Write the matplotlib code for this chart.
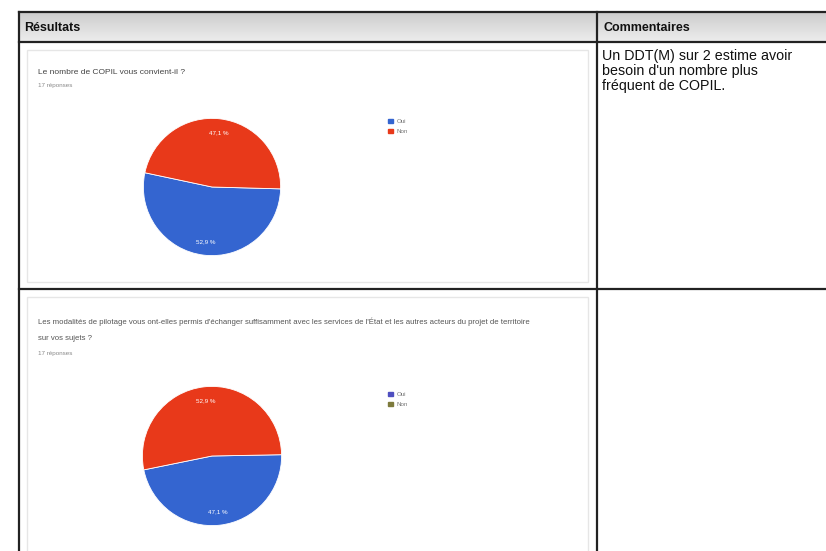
import matplotlib
matplotlib.use("Agg")
import matplotlib.pyplot as plt
from matplotlib.patches import Rectangle, Patch
import numpy as np

plt.rcParams['font.family'] = ['Liberation Sans', 'DejaVu Sans']

# ---- data ----
headers = ["Résultats", "Commentaires"]
labels = ["Oui", "Non"]
q1_title = "Le nombre de COPIL vous convient-il ?"
q1_sub = "17 réponses"
q1_values = [52.9, 47.1]          # Oui, Non (%)
q2_title = ["Les modalités de pilotage vous ont-elles permis d'échanger suffisamment avec les services de l'État et les autres acteurs du projet de territoire",
            "sur vos sujets ?"]
q2_sub = "17 réponses"
q2_values = [47.1, 52.9]          # Oui, Non (%)
pie_colors = ["#3465d0", "#e8391a"]
legend2_colors = ["#4f4fc0", "#7d7a3c"]
comment1 = ["Un DDT(M) sur 2 estime avoir", "besoin d'un nombre plus", "fréquent de COPIL."]

W, H = 826, 551
fig = plt.figure(figsize=(W / 100, H / 100), dpi=100)
bg = fig.add_axes([0, 0, 1, 1])
bg.set_xlim(0, W)
bg.set_ylim(H, 0)
bg.axis('off')

# header gradient
grad = np.linspace(0.80, 0.93, 64).reshape(-1, 1)
bg.imshow(grad, cmap='gray', vmin=0, vmax=1, extent=[19, W, 42, 12], aspect='auto', zorder=0)

# table lines
lc = "#222222"
bg.plot([19, W], [12, 12], color=lc, lw=1.6)
bg.plot([19, W], [42, 42], color=lc, lw=1.6)
bg.plot([19, W], [289, 289], color=lc, lw=1.6)
bg.plot([19, 19], [12, H], color=lc, lw=1.6)
bg.plot([597, 597], [12, H], color=lc, lw=1.6)

bg.text(24, 28, headers[0], fontsize=9, fontweight='bold', va='center', ha='left', color='#111111')
bg.text(603, 28, headers[1], fontsize=9, fontweight='bold', va='center', ha='left', color='#111111')

# inner cards
for y0, y1 in [(50, 282), (297, 560)]:
    bg.add_patch(Rectangle((27, y0), 561, y1 - y0, fill=False, ec='#e6e6e6', lw=1.0))

# question texts
bg.text(38, 72, q1_title, fontsize=6, color='#444444', va='center')
bg.text(38, 86, q1_sub, fontsize=4.5, color='#888888', va='center')
bg.text(38, 322, q2_title[0], fontsize=5.6, color='#555555', va='center')
bg.text(38, 338, q2_title[1], fontsize=5.6, color='#555555', va='center')
bg.text(38, 353, q2_sub, fontsize=4.5, color='#888888', va='center')

# comments
for i, line in enumerate(comment1):
    bg.text(602, 56 + i * 15, line, fontsize=10.3, color='#111111', va='center', clip_on=True)


def add_pie(cx, cy, r, values, startangle, legend_colors, leg_x, leg_y):
    ax = fig.add_axes([(cx - r) / W, 1 - (cy + r) / H, 2 * r / W, 2 * r / H])
    ax.pie(values, colors=pie_colors, startangle=startangle, counterclock=True,
           autopct=lambda p: f"{p:.1f} %".replace('.', ','), pctdistance=0.8,
           textprops=dict(color='white', fontsize=4.5),
           wedgeprops=dict(linewidth=0.6, edgecolor='white'))
    ax.set_xlim(-1.02, 1.02)
    ax.set_ylim(-1.02, 1.02)
    ax.set_aspect('auto')
    ax.axis('off')
    handles = [Patch(color=c, label=l) for c, l in zip(legend_colors, labels)]
    bg.legend(handles=handles, loc='upper left',
              bbox_to_anchor=(leg_x / W, 1 - leg_y / H), bbox_transform=fig.transFigure,
              frameon=False, fontsize=4.5, handlelength=0.8, handleheight=0.8,
              labelspacing=0.7, handletextpad=0.6, labelcolor='#777777')


# pie 1: blue (Oui) at bottom, red (Non) on top
add_pie(212, 187, 70, q1_values, 168, pie_colors, 382, 113)
leg1 = bg.get_legend()
bg.add_artist(leg1)
add_pie(212, 456, 71, q2_values, 191.5, legend2_colors, 382, 386)

fig.savefig("out.png", dpi=100)
